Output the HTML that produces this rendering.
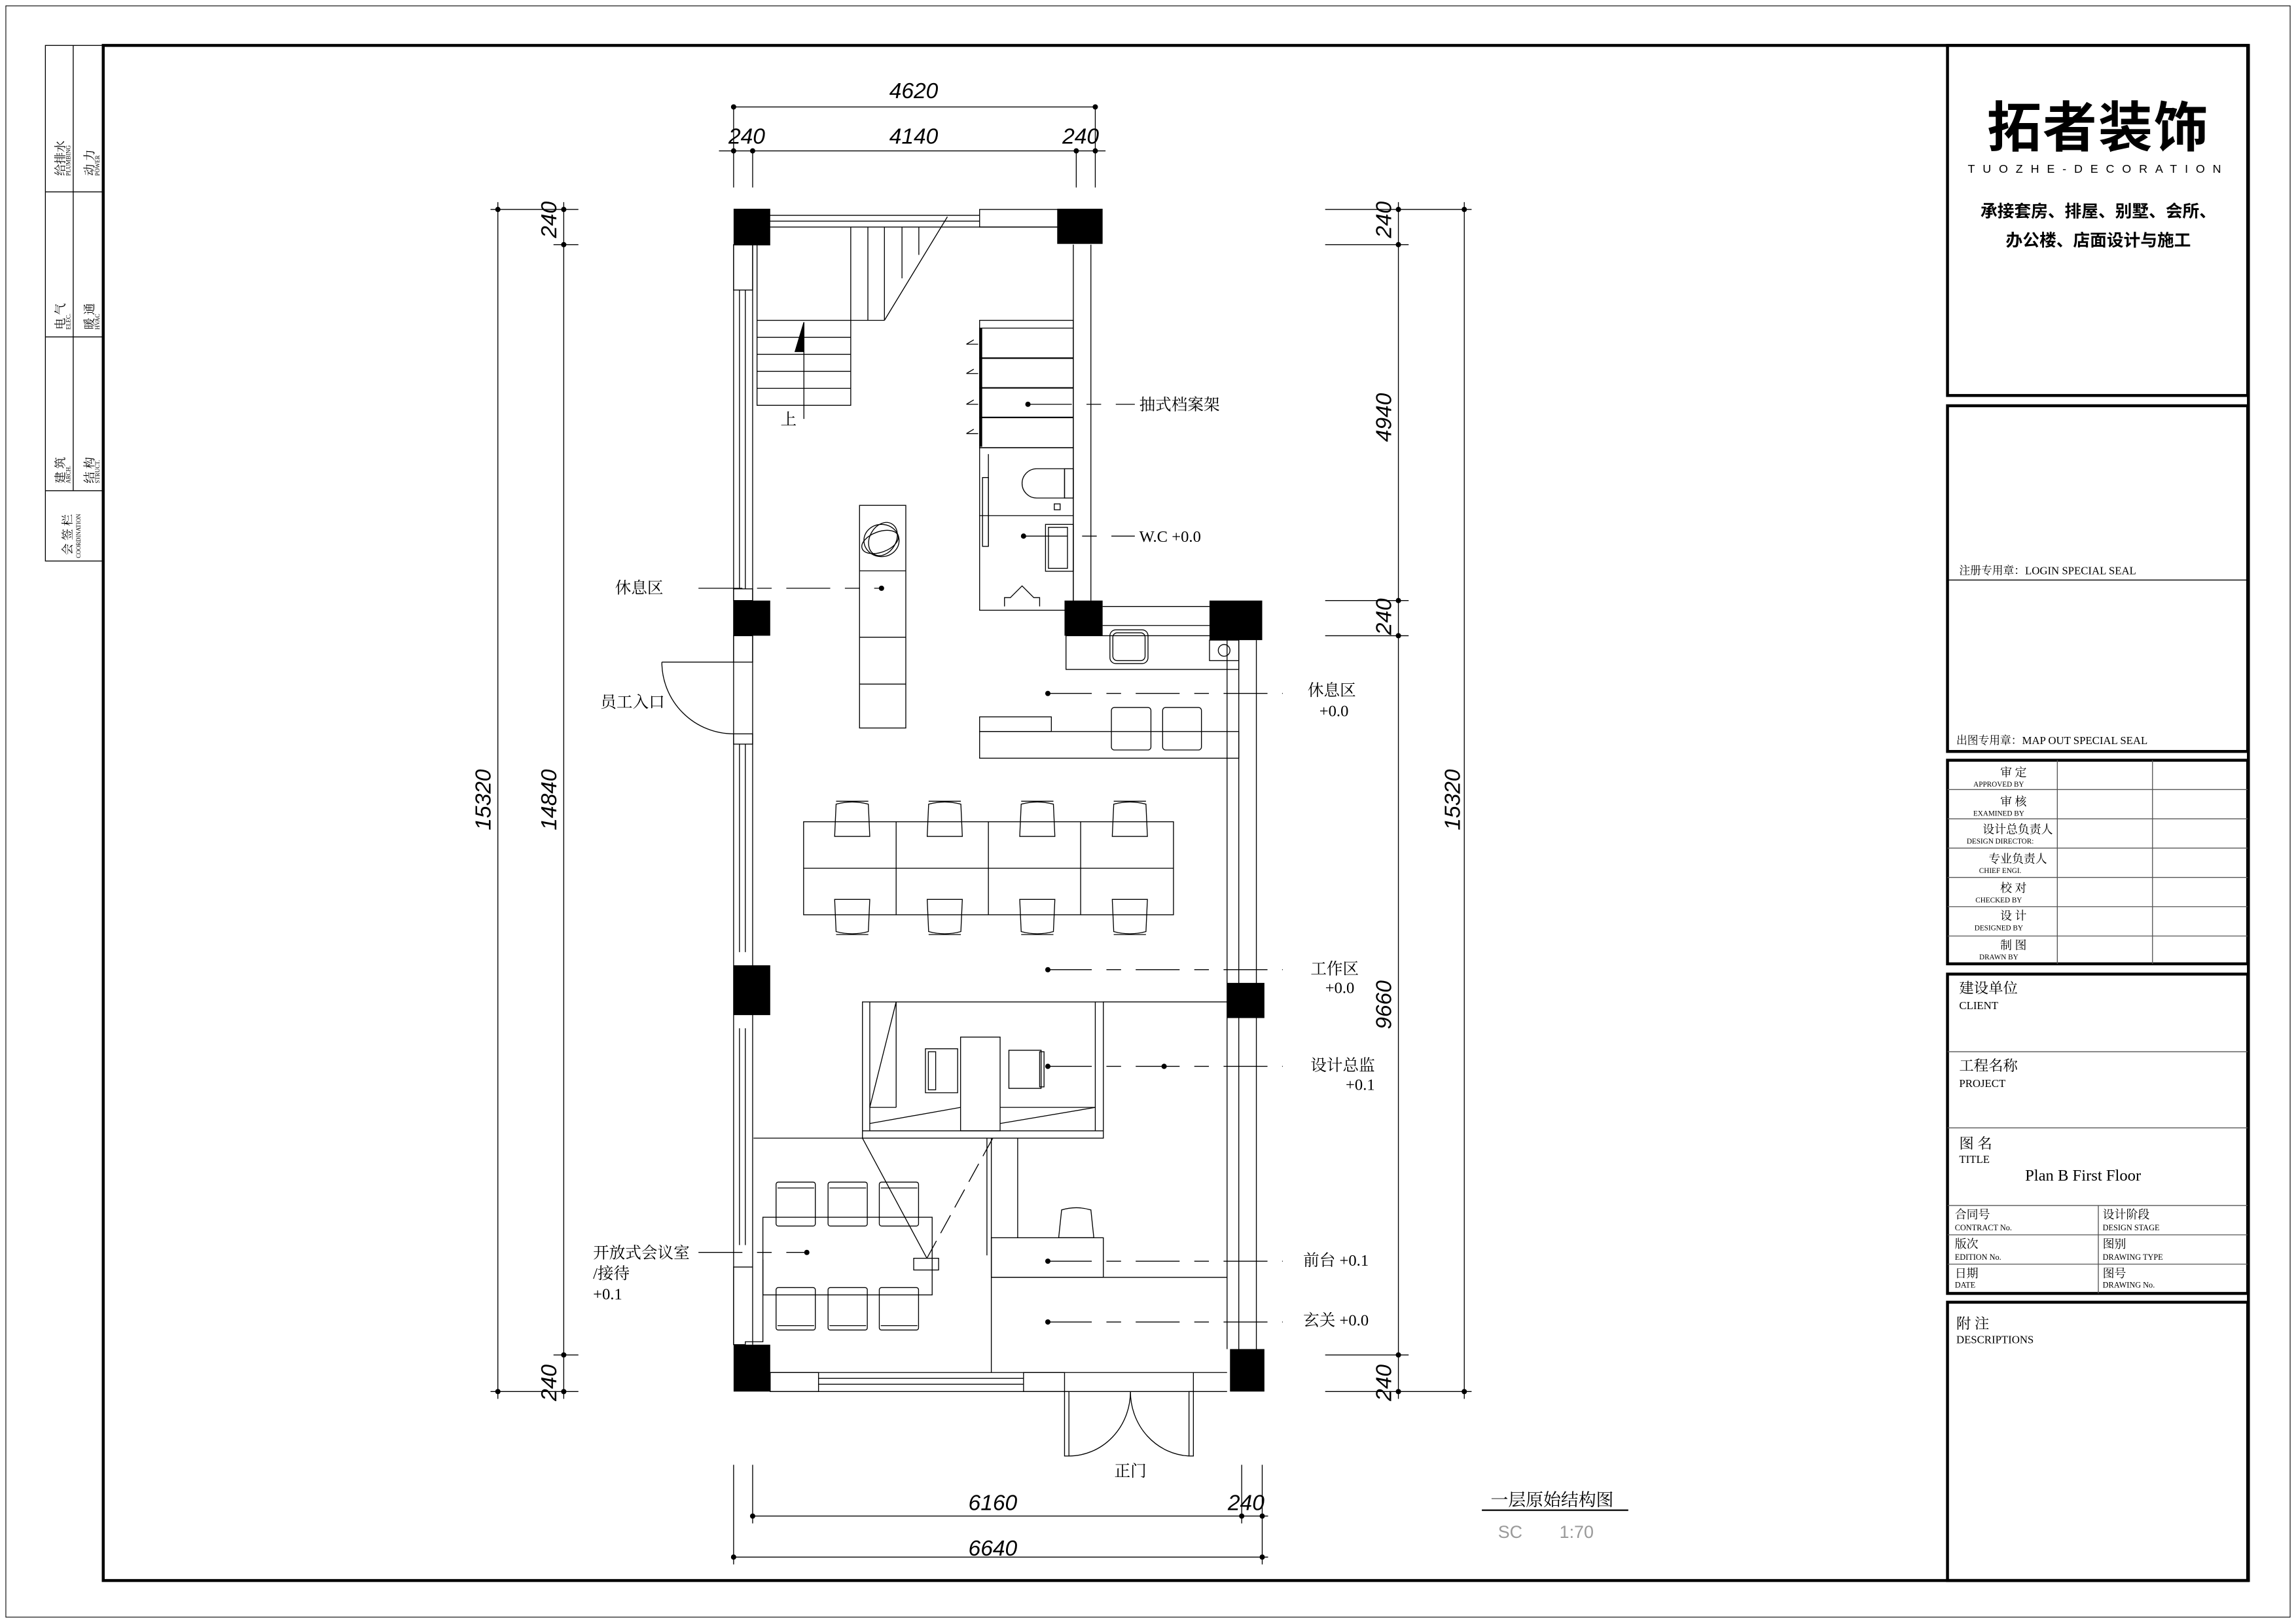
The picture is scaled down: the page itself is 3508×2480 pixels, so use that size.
<!DOCTYPE html>
<html><head><meta charset="utf-8"><style>
html,body{margin:0;padding:0;background:#fff}
svg{display:block}
text{font-family:"Liberation Serif","Noto Serif CJK SC","Noto Sans CJK SC",serif;fill:#000}
.s{font-family:"Liberation Sans","Noto Sans CJK SC",sans-serif}
.d{font-family:"Liberation Sans",sans-serif;font-style:italic;font-size:15px}
</style></head><body>
<svg width="3508" height="2480" viewBox="0 0 1568 1108" preserveAspectRatio="none" xmlns="http://www.w3.org/2000/svg">
<g fill="none" stroke="#000" stroke-width="0.6">
<!-- outer sheet -->
<rect x="4" y="4" width="1560" height="1100" stroke-width="0.5"/>
<rect x="70.5" y="31" width="1465" height="1048" stroke-width="2"/>
<!-- left strip -->
<rect x="31" y="31" width="39" height="352"/>
<line x1="31" y1="131" x2="70" y2="131"/><line x1="31" y1="230" x2="70" y2="230"/><line x1="31" y1="335" x2="70" y2="335"/>
<line x1="50" y1="31" x2="50" y2="335"/>
<!-- title block -->
<g stroke-width="2">
<rect x="1330" y="31" width="205" height="239"/>
<rect x="1330" y="277" width="205" height="236"/>
<rect x="1330" y="519" width="205" height="139"/>
<rect x="1330" y="665" width="205" height="218"/>
<rect x="1330" y="889" width="205" height="190"/>
</g>
<line x1="1330" y1="396" x2="1535" y2="396"/>
<g stroke="#555">
<line x1="1330" y1="539" x2="1535" y2="539"/><line x1="1330" y1="559" x2="1535" y2="559"/><line x1="1330" y1="579" x2="1535" y2="579"/>
<line x1="1330" y1="599" x2="1535" y2="599"/><line x1="1330" y1="619" x2="1535" y2="619"/><line x1="1330" y1="639" x2="1535" y2="639"/>
<line x1="1405" y1="519" x2="1405" y2="658"/><line x1="1470" y1="519" x2="1470" y2="658"/>
<line x1="1330" y1="718" x2="1535" y2="718"/><line x1="1330" y1="770" x2="1535" y2="770"/>
<line x1="1330" y1="823" x2="1535" y2="823"/><line x1="1330" y1="843" x2="1535" y2="843"/><line x1="1330" y1="863" x2="1535" y2="863"/>
<line x1="1433" y1="823" x2="1433" y2="883"/>
</g>

<!-- dimensions top -->
<line x1="501" y1="73" x2="748" y2="73"/>
<line x1="491" y1="103" x2="755" y2="103"/>
<line x1="501" y1="73" x2="501" y2="128"/><line x1="514" y1="103" x2="514" y2="128"/>
<line x1="735" y1="103" x2="735" y2="128"/><line x1="748" y1="73" x2="748" y2="128"/>
<!-- left dims -->
<line x1="340" y1="138" x2="340" y2="955"/><line x1="385" y1="138" x2="385" y2="955"/>
<line x1="335" y1="143" x2="395" y2="143"/><line x1="378" y1="167" x2="395" y2="167"/>
<line x1="378" y1="925" x2="395" y2="925"/><line x1="335" y1="950" x2="395" y2="950"/>
<!-- right dims -->
<line x1="955" y1="138" x2="955" y2="955"/><line x1="1000" y1="138" x2="1000" y2="955"/>
<line x1="905" y1="143" x2="1005" y2="143"/><line x1="905" y1="167" x2="962" y2="167"/>
<line x1="905" y1="410" x2="962" y2="410"/><line x1="905" y1="434" x2="962" y2="434"/>
<line x1="905" y1="925" x2="962" y2="925"/><line x1="905" y1="950" x2="1005" y2="950"/>
<!-- bottom dims -->
<line x1="514" y1="1035" x2="866" y2="1035"/><line x1="501" y1="1063" x2="866" y2="1063"/>
<line x1="501" y1="1000" x2="501" y2="1068"/><line x1="514" y1="1000" x2="514" y2="1040"/>
<line x1="848" y1="1000" x2="848" y2="1040"/><line x1="862" y1="1000" x2="862" y2="1068"/>

<!-- walls -->
<line x1="514" y1="155" x2="723" y2="155"/><line x1="514" y1="151" x2="669" y2="151"/><line x1="514" y1="147" x2="669" y2="147"/>
<rect x="669" y="143" width="54" height="12"/>
<line x1="501" y1="167" x2="501" y2="918"/><line x1="514" y1="167" x2="514" y2="918"/>
<line x1="505" y1="198" x2="505" y2="402"/><line x1="509" y1="198" x2="509" y2="402"/>
<line x1="505" y1="508" x2="505" y2="650"/><line x1="509" y1="508" x2="509" y2="650"/>
<line x1="505" y1="702" x2="505" y2="850"/><line x1="509" y1="702" x2="509" y2="850"/>
<rect x="501" y="167" width="13" height="31"/><rect x="501" y="402" width="13" height="8"/><rect x="501" y="434" width="13" height="18"/><rect x="501" y="501" width="13" height="7"/>
<line x1="733" y1="167" x2="733" y2="410"/><line x1="745" y1="167" x2="745" y2="410"/>
<line x1="753" y1="414" x2="826" y2="414"/><line x1="753" y1="427" x2="826" y2="427"/>
<line x1="838" y1="437" x2="838" y2="921"/><line x1="846" y1="437" x2="846" y2="921"/><line x1="858" y1="437" x2="858" y2="921"/>
<!-- bottom wall -->
<line x1="526" y1="937" x2="838" y2="937"/><line x1="526" y1="950" x2="838" y2="950"/>
<rect x="526" y="937" width="33" height="13"/><rect x="699" y="937" width="28" height="13"/>
<line x1="559" y1="941" x2="699" y2="941"/><line x1="559" y1="945" x2="699" y2="945"/>
<line x1="815" y1="937" x2="815" y2="950"/>
<!-- main door -->
<rect x="727" y="950" width="3" height="44"/><rect x="812" y="950" width="3" height="44"/>
<path d="M730 994 A42 44 0 0 0 772 950"/><path d="M812 994 A42 44 0 0 1 772 950"/>
<!-- side door -->
<line x1="452" y1="452" x2="501" y2="452"/><path d="M452 452 A49 49 0 0 0 501 501"/>

<!-- stairs -->
<rect x="517" y="218.7" width="64" height="58"/>
<line x1="517" y1="230.3" x2="581" y2="230.3"/><line x1="517" y1="241.9" x2="581" y2="241.9"/><line x1="517" y1="253.5" x2="581" y2="253.5"/><line x1="517" y1="265.1" x2="581" y2="265.1"/>
<line x1="517" y1="167" x2="517" y2="218.7"/>
<line x1="581" y1="155" x2="581" y2="218.7"/><line x1="592.7" y1="155" x2="592.7" y2="218.7"/><line x1="604" y1="155" x2="604" y2="218.7"/><line x1="616" y1="155" x2="616" y2="190"/><line x1="627.5" y1="155" x2="627.5" y2="174"/>
<line x1="581" y1="218.7" x2="604" y2="218.7"/><line x1="604" y1="218.7" x2="647" y2="148"/>
<line x1="549" y1="220" x2="549" y2="286"/>
<path d="M549 220 L549 240 L543 240 Z" fill="#000"/>
<!-- shelf -->
<rect x="669" y="218.7" width="64" height="87"/>
<line x1="669" y1="224" x2="733" y2="224"/>
<line x1="669" y1="244.5" x2="733" y2="244.5" stroke-width="1"/><line x1="669" y1="264.8" x2="733" y2="264.8" stroke-width="1"/><line x1="669" y1="285" x2="733" y2="285" stroke-width="1"/>
<line x1="670" y1="224" x2="670" y2="305" stroke-width="1.5"/>
<path d="M660 235h8M660 235l5-3M660 255h8M660 255l5-3M660 276h8M660 276l5-3M660 296h8M660 296l5-3"/>
<!-- WC -->
<rect x="669" y="305.6" width="64" height="111"/>
<line x1="675" y1="310" x2="675" y2="373"/><line x1="669" y1="352" x2="733" y2="352"/>
<rect x="671" y="326" width="4" height="47"/>
<path d="M727 320 H708 A10 10 0 0 0 708 340 H727 Z"/><rect x="727" y="320" width="6" height="20"/>
<rect x="720" y="344" width="4" height="4"/>
<rect x="714" y="358" width="19" height="32"/><rect x="716" y="360" width="13" height="28"/>
<path d="M686 414 v-6 h4 l8 -8 l8 8 h4 v6"/>
<!-- lounge cabinet -->
<rect x="587" y="345" width="31.6" height="152"/>
<line x1="587" y1="389.7" x2="618.6" y2="389.7"/><line x1="587" y1="435" x2="618.6" y2="435"/><line x1="587" y1="467" x2="618.6" y2="467"/>
<ellipse cx="602" cy="369" rx="12" ry="11"/><ellipse cx="603" cy="368" rx="9" ry="12" transform="rotate(30 603 368)"/><ellipse cx="601" cy="370" rx="13" ry="7" transform="rotate(-20 601 370)"/>
<!-- counter top right -->
<rect x="728" y="434" width="118" height="23"/>
<rect x="758" y="430" width="26" height="23" rx="4"/><rect x="760" y="432" width="22" height="19" rx="3"/>
<rect x="826" y="437" width="20" height="14"/><circle cx="836" cy="444" r="4"/>
<!-- bar -->
<rect x="669" y="499.4" width="177" height="18.2"/><rect x="669" y="489.4" width="49" height="10"/>
<rect x="759" y="483" width="27" height="29" rx="2"/><rect x="794" y="483" width="26.5" height="29" rx="2"/>
<!-- workstations -->
<rect x="548.8" y="561" width="252.6" height="63.5"/>
<line x1="548.8" y1="592.7" x2="801.4" y2="592.7"/>
<line x1="612" y1="561" x2="612" y2="624.5"/><line x1="675" y1="561" x2="675" y2="624.5"/><line x1="738" y1="561" x2="738" y2="624.5"/>
<g id="cu"><path d="M570 571 L571 549 Q582 546 593 549 L594 571 Z"/><line x1="571" y1="547" x2="593" y2="547"/></g>
<use href="#cu" x="63.2"/><use href="#cu" x="126.4"/><use href="#cu" x="189.6"/>
<g id="cd"><path d="M570 614 L571 636 Q582 639 593 636 L594 614 Z"/><line x1="571" y1="638" x2="593" y2="638"/></g>
<use href="#cd" x="63.2"/><use href="#cd" x="126.4"/><use href="#cd" x="189.6"/>
<!-- director office -->
<rect x="589" y="684" width="164.5" height="93"/>
<line x1="594" y1="684" x2="594" y2="772"/><line x1="748" y1="684" x2="748" y2="772"/><line x1="589" y1="772" x2="753.5" y2="772"/>
<line x1="594" y1="756" x2="612" y2="756"/><line x1="612" y1="684" x2="612" y2="756"/><line x1="594" y1="756" x2="612" y2="684"/>
<line x1="594" y1="767" x2="656" y2="756"/><line x1="683" y1="767" x2="748" y2="756"/><line x1="683" y1="756" x2="748" y2="756"/>
<rect x="656" y="708" width="27" height="64"/>
<path d="M632 716 h22 v30 h-22 Z"/><rect x="634" y="718" width="5" height="26"/>
<path d="M689 717 h22 v26 h-22 Z"/><rect x="710" y="718" width="3" height="24"/>
<line x1="514.6" y1="777" x2="589" y2="777"/><line x1="753.5" y1="684" x2="838" y2="684"/>
<line x1="589" y1="777" x2="633" y2="859"/><line x1="678" y1="777" x2="633" y2="859" stroke-dasharray="14 6"/>
<rect x="624" y="859" width="17" height="8"/>
<!-- partitions -->
<line x1="677" y1="777" x2="677" y2="937"/><line x1="674" y1="777" x2="674" y2="857"/><line x1="695" y1="777" x2="695" y2="845"/>
<rect x="677" y="845" width="76.5" height="27"/><line x1="677" y1="872" x2="838" y2="872"/>
<path d="M724 845 l2 -19 q10 -3 20 0 l2 19 Z" transform="translate(-1,-0)"/>
<!-- meeting -->
<rect x="521" y="831" width="115.6" height="53"/>
<g id="mu"><rect x="530" y="807" width="26.8" height="30" rx="1.5"/><line x1="531" y1="811" x2="556" y2="811"/></g>
<use href="#mu" x="35.5"/><use href="#mu" x="70.5"/>
<g id="md"><rect x="530" y="879" width="26.8" height="29" rx="1.5"/><line x1="531" y1="905" x2="556" y2="905"/></g>
<use href="#md" x="35.5"/><use href="#md" x="70.5"/>
<path d="M514 865 h-13 v53 h8 v-2 h12 v-56"/>

<!-- leaders -->
<g stroke-dasharray="30 10 10 10">
<line x1="702" y1="276" x2="775" y2="276"/><line x1="699" y1="366" x2="775" y2="366"/>
<line x1="477" y1="401.6" x2="602" y2="401.6"/><line x1="715.6" y1="473.4" x2="876" y2="473.4"/>
<line x1="715.6" y1="662" x2="876" y2="662"/><line x1="715.6" y1="728" x2="876" y2="728"/>
<line x1="477" y1="855" x2="551" y2="855"/><line x1="715.6" y1="861" x2="876" y2="861"/><line x1="715.6" y1="902.5" x2="876" y2="902.5"/>
</g>
<line x1="1012" y1="1031" x2="1112" y2="1031" stroke-width="1"/>
</g>
<!-- filled: columns, dots -->
<g fill="#000">
<rect x="501" y="142.5" width="25" height="25"/><rect x="722" y="142.5" width="31" height="24"/>
<rect x="501" y="410" width="25" height="24"/><rect x="727" y="410" width="26" height="24"/><rect x="826" y="410" width="36" height="27"/>
<rect x="501" y="659" width="25" height="34"/><rect x="838" y="671" width="25.5" height="24"/>
<rect x="501" y="918" width="25" height="32"/><rect x="840" y="921" width="23.5" height="29"/>
<circle cx="702" cy="276" r="1.8"/><circle cx="699" cy="366" r="1.8"/><circle cx="602" cy="401.6" r="1.8"/>
<circle cx="715.6" cy="473.4" r="1.8"/><circle cx="715.6" cy="662" r="1.8"/><circle cx="715.6" cy="728" r="1.8"/><circle cx="795" cy="728" r="1.8"/>
<circle cx="551" cy="855" r="1.8"/><circle cx="715.6" cy="861" r="1.8"/><circle cx="715.6" cy="902.5" r="1.8"/>
<circle cx="501" cy="73" r="1.8"/><circle cx="748" cy="73" r="1.8"/>
<circle cx="501" cy="103" r="1.8"/><circle cx="514" cy="103" r="1.8"/><circle cx="735" cy="103" r="1.8"/><circle cx="748" cy="103" r="1.8"/>
<circle cx="340" cy="143" r="1.8"/><circle cx="340" cy="950" r="1.8"/><circle cx="385" cy="143" r="1.8"/><circle cx="385" cy="167" r="1.8"/><circle cx="385" cy="925" r="1.8"/><circle cx="385" cy="950" r="1.8"/>
<circle cx="955" cy="143" r="1.8"/><circle cx="955" cy="167" r="1.8"/><circle cx="955" cy="410" r="1.8"/><circle cx="955" cy="434" r="1.8"/><circle cx="955" cy="925" r="1.8"/><circle cx="955" cy="950" r="1.8"/><circle cx="1000" cy="143" r="1.8"/><circle cx="1000" cy="950" r="1.8"/>
<circle cx="514" cy="1035" r="1.8"/><circle cx="848" cy="1035" r="1.8"/><circle cx="862" cy="1035" r="1.8"/><circle cx="501" cy="1063" r="1.8"/><circle cx="862" cy="1063" r="1.8"/>
</g>

<!-- dim texts -->
<g class="d" text-anchor="middle">
<text x="624" y="67" class="d">4620</text>
<text x="510" y="98" class="d">240</text><text x="624" y="98" class="d">4140</text><text x="738" y="98" class="d">240</text>
<text x="678" y="1031" class="d">6160</text><text x="851" y="1031" class="d">240</text><text x="678" y="1062" class="d">6640</text>
<text class="d" transform="translate(335,546) rotate(-90)">15320</text>
<text class="d" transform="translate(380,546) rotate(-90)">14840</text>
<text class="d" transform="translate(380,150) rotate(-90)">240</text>
<text class="d" transform="translate(380,944) rotate(-90)">240</text>
<text class="d" transform="translate(950,150) rotate(-90)">240</text>
<text class="d" transform="translate(950,285) rotate(-90)">4940</text>
<text class="d" transform="translate(950,421) rotate(-90)">240</text>
<text class="d" transform="translate(950,686) rotate(-90)">9660</text>
<text class="d" transform="translate(950,944) rotate(-90)">240</text>
<text class="d" transform="translate(997,546) rotate(-90)">15320</text>
</g>
<!-- labels -->
<g font-size="11">
<text x="778" y="280">抽式档案架</text>
<text x="778" y="370">W.C +0.0</text>
<text x="420" y="405">休息区</text>
<text x="410" y="483">员工入口</text>
<text x="533" y="290">上</text>
<text x="893" y="475">休息区</text><text x="901" y="489">+0.0</text>
<text x="895" y="665">工作区</text><text x="905" y="678">+0.0</text>
<text x="895" y="731">设计总监</text><text x="919" y="744">+0.1</text>
<text x="405" y="859">开放式会议室</text><text x="405" y="873">/接待</text><text x="405" y="887">+0.1</text>
<text x="890" y="864">前台 +0.1</text>
<text x="890" y="905">玄关 +0.0</text>
<text x="761" y="1008">正门</text>
<text x="1018" y="1028" font-size="12">一层原始结构图</text>
<text x="1023" y="1050" font-size="12" class="s" fill="#999" style="fill:#999">SC</text>
<text x="1065" y="1050" font-size="12" class="s" style="fill:#999">1:70</text>
</g>
<!-- left strip text -->
<g font-size="8">
<text transform="translate(44,120) rotate(-90)">给排水</text><text transform="translate(48,120) rotate(-90)" font-size="4">PLUMBING</text>
<text transform="translate(64,120) rotate(-90)">动 力</text><text transform="translate(68,120) rotate(-90)" font-size="4">POWER</text>
<text transform="translate(44,225) rotate(-90)">电 气</text><text transform="translate(48,225) rotate(-90)" font-size="4">ELEC.</text>
<text transform="translate(64,225) rotate(-90)">暖 通</text><text transform="translate(68,225) rotate(-90)" font-size="4">HVAC</text>
<text transform="translate(44,330) rotate(-90)">建 筑</text><text transform="translate(48,330) rotate(-90)" font-size="4">ARCH.</text>
<text transform="translate(64,330) rotate(-90)">结 构</text><text transform="translate(68,330) rotate(-90)" font-size="4">STRUCT.</text>
<text transform="translate(49,379) rotate(-90)">会 签 栏</text><text transform="translate(55,381) rotate(-90)" font-size="4">COORDINATION</text>
</g>
<!-- title block texts -->
<text x="1433" y="100" text-anchor="middle" class="s" font-size="37" font-weight="bold" letter-spacing="1">拓者装饰</text>
<text x="1433" y="118" text-anchor="middle" class="s" font-size="8" letter-spacing="5.3">TUOZHE-DECORATION</text>
<text x="1433" y="148" text-anchor="middle" class="s" font-size="11.5" font-weight="bold">承接套房、排屋、别墅、会所、</text>
<text x="1433" y="168" text-anchor="middle" class="s" font-size="11.5" font-weight="bold">办公楼、店面设计与施工</text>
<g font-size="7.5">
<text x="1338" y="392">注册专用章：LOGIN SPECIAL SEAL</text>
<text x="1336" y="508">出图专用章：MAP OUT SPECIAL SEAL</text>
</g>
<g font-size="8" text-anchor="middle">
<text x="1375" y="530">审 定</text><text x="1365" y="537" font-size="5">APPROVED BY</text>
<text x="1375" y="550">审 核</text><text x="1365" y="557" font-size="5">EXAMINED BY</text>
<text x="1378" y="569">设计总负责人</text><text x="1366" y="576" font-size="5">DESIGN DIRECTOR:</text>
<text x="1378" y="589">专业负责人</text><text x="1366" y="596" font-size="5">CHIEF ENGI.</text>
<text x="1375" y="609">校 对</text><text x="1365" y="616" font-size="5">CHECKED BY</text>
<text x="1375" y="628">设 计</text><text x="1365" y="635" font-size="5">DESIGNED BY</text>
<text x="1375" y="648">制 图</text><text x="1365" y="655" font-size="5">DRAWN BY</text>
</g>
<g font-size="10">
<text x="1338" y="678">建设单位</text><text x="1338" y="689" font-size="7.5">CLIENT</text>
<text x="1338" y="731">工程名称</text><text x="1338" y="742" font-size="7.5">PROJECT</text>
<text x="1338" y="784">图 名</text><text x="1338" y="794" font-size="7.5">TITLE</text>
<text x="1383" y="806" font-size="11" font-family="Liberation Mono">Plan B First Floor</text>
<text x="1335" y="832" font-size="8">合同号</text><text x="1335" y="840" font-size="5.5">CONTRACT No.</text>
<text x="1436" y="832" font-size="8">设计阶段</text><text x="1436" y="840" font-size="5.5">DESIGN STAGE</text>
<text x="1335" y="852" font-size="8">版次</text><text x="1335" y="860" font-size="5.5">EDITION No.</text>
<text x="1436" y="852" font-size="8">图别</text><text x="1436" y="860" font-size="5.5">DRAWING TYPE</text>
<text x="1335" y="872" font-size="8">日期</text><text x="1335" y="879" font-size="5.5">DATE</text>
<text x="1436" y="872" font-size="8">图号</text><text x="1436" y="879" font-size="5.5">DRAWING No.</text>
<text x="1336" y="907">附 注</text><text x="1336" y="917" font-size="7.5">DESCRIPTIONS</text>
</g>
</svg>
</body></html>
